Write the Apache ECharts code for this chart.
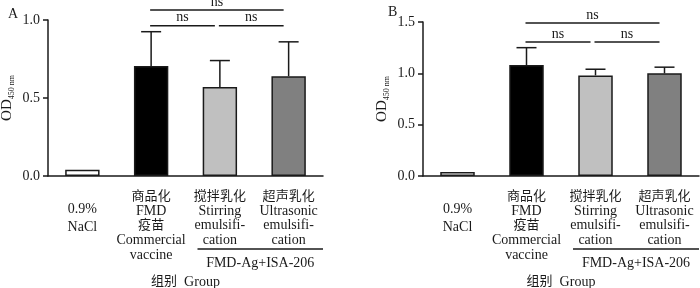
<!DOCTYPE html>
<html>
<head>
<meta charset="utf-8">
<script src="https://cdn.jsdelivr.net/npm/echarts@6/dist/echarts.min.js"></script>
<style>
html, body { margin: 0; padding: 0; background: #fff; }
#chart { width: 700px; height: 288px; }
</style>
</head>
<body>
<div id="chart"></div>
<script>
// 组别
const categories = [
  '0.9%\nNaCl',
  '商品化\nFMD\n疫苗\nCommercial\nvaccine',
  '搅拌乳化\nStirring\nemulsifi-\ncation',
  '超声乳化\nUltrasonic\nemulsifi-\ncation'
]
const barColors = ['#ffffff', '#000000', '#c0c0c0', '#808080']

// A
const meanA = [0.04, 0.705, 0.57, 0.64]
const upperA = [null, 0.925, 0.74, 0.86]
const sigA = [[1, 3, 1.064], [1, 2, 0.963], [2, 3, 0.963]]
// B
const meanB = [0.04, 1.08, 0.98, 1.0]
const upperB = [null, 1.25, 1.04, 1.06]
const sigB = [[1, 3, 1.49], [1, 2, 1.305], [2, 3, 1.305]]

const groupSpan = [[2, 3]]
const groupLabel = 'FMD-Ag+ISA-206'

const FONT = '"Liberation Serif", "Times New Roman", "Noto Sans CJK SC", serif'
const INK = '#1a1a1a'
const FS = 14

const chart = echarts.init(document.getElementById('chart'))

function labelFormatter(value, idx) {
  if (idx === 0) {
    return '{sp| }\n' + value.split('\n').map(s => '{n|' + s + '}').join('\n')
  }
  return value.split('\n').map(s => (/[\u4e00-\u9fff]/.test(s) ? '{c|' : '{t|') + s + '}').join('\n')
}

function xAxisFor(gridIndex) {
  return {
    type: 'category',
    gridIndex,
    data: categories,
    name: '{c|组别}  Group',
    nameLocation: 'middle',
    nameGap: 99,
    nameTextStyle: {
      rich: {
        c: { fontFamily: FONT, fontSize: 13, color: INK }
      },
      color: INK, fontFamily: FONT, fontSize: FS
    },
    axisLine: { lineStyle: { color: INK, width: 1.5 } },
    axisTick: { alignWithLabel: true, length: 6, lineStyle: { color: INK, width: 1.5 } },
    axisLabel: {
      interval: 0,
      margin: 13,
      color: INK,
      fontFamily: FONT,
      formatter: labelFormatter,
      rich: {
        sp: { fontSize: 8, lineHeight: 11 },
        n: { fontFamily: FONT, fontSize: FS, lineHeight: 18, color: INK },
        t: { fontFamily: FONT, fontSize: FS, lineHeight: 14.5, color: INK },
        c: { fontFamily: FONT, fontSize: 13, lineHeight: 15, color: INK }
      }
    }
  }
}

function yAxisFor(gridIndex, max) {
  return {
    type: 'value',
    gridIndex,
    min: 0,
    max,
    interval: 0.5,
    name: '{a|OD}{b|450 nm}',
    nameLocation: 'middle',
    nameGap: 32,
    nameTextStyle: {
      rich: {
        a: { fontFamily: FONT, fontSize: 15, color: INK, lineHeight: 18 },
        b: { fontFamily: FONT, fontSize: 8, color: INK, verticalAlign: 'bottom', lineHeight: 18 }
      }
    },
    axisLine: { show: true, lineStyle: { color: INK, width: 1.5 } },
    axisTick: { show: true, length: 5, lineStyle: { color: INK, width: 1.5 } },
    splitLine: { show: false },
    axisLabel: {
      margin: 8,
      color: INK,
      fontFamily: FONT,
      fontSize: FS,
      formatter: v => v.toFixed(1)
    }
  }
}

function barSeries(idx, mean) {
  return {
    type: 'bar',
    xAxisIndex: idx,
    yAxisIndex: idx,
    barWidth: '50%',
    data: mean.map((v, i) => ({
      value: v,
      itemStyle: { color: barColors[i], borderColor: INK, borderWidth: 1.5 }
    })),
    z: 2
  }
}

function errorSeries(idx, mean, upper) {
  const data = []
  mean.forEach((v, i) => { if (upper[i] != null) data.push([i, v, upper[i]]) })
  return {
    type: 'custom',
    xAxisIndex: idx,
    yAxisIndex: idx,
    clip: false,
    z: 3,
    encode: { x: 0, y: [1, 2] },
    data,
    renderItem(params, api) {
      const p0 = api.coord([api.value(0), api.value(1)])
      const p1 = api.coord([api.value(0), api.value(2)])
      const half = 10
      const style = { stroke: INK, lineWidth: 1.5 }
      return {
        type: 'group',
        children: [
          { type: 'line', shape: { x1: p0[0], y1: p0[1], x2: p1[0], y2: p1[1] }, style },
          { type: 'line', shape: { x1: p1[0] - half, y1: p1[1], x2: p1[0] + half, y2: p1[1] }, style }
        ]
      }
    }
  }
}

function sigSeries(idx, sig) {
  return {
    type: 'custom',
    xAxisIndex: idx,
    yAxisIndex: idx,
    clip: false,
    z: 3,
    encode: { x: [0, 1], y: 2 },
    data: sig,
    renderItem(params, api) {
      const a = api.coord([api.value(0), api.value(2)])
      const b = api.coord([api.value(1), api.value(2)])
      const x1 = a[0] - 1
      const x2 = b[0] - 5
      return {
        type: 'group',
        children: [
          { type: 'line', shape: { x1, y1: a[1], x2, y2: a[1] }, style: { stroke: INK, lineWidth: 1.5 } },
          {
            type: 'text',
            style: {
              text: 'ns', x: (x1 + x2) / 2, y: a[1] - 1,
              align: 'center', verticalAlign: 'bottom',
              fontFamily: FONT, fontSize: FS, fill: INK
            }
          }
        ]
      }
    }
  }
}

function groupSeries(idx) {
  return {
    type: 'custom',
    xAxisIndex: idx,
    yAxisIndex: idx,
    clip: false,
    silent: true,
    encode: { x: [0, 1] },
    data: groupSpan,
    renderItem(params, api) {
      const a = api.coord([api.value(0), 0])
      const b = api.coord([api.value(1), 0])
      const band = api.size([1, 0])[0]
      const x1 = a[0] - band / 2 + 12
      const x2 = b[0] + band / 2
      const y = a[1] + 73
      return {
        type: 'group',
        children: [
          { type: 'line', shape: { x1, y1: y, x2, y2: y }, style: { stroke: INK, lineWidth: 1.5 } },
          {
            type: 'text',
            style: {
              text: groupLabel, x: (x1 + x2) / 2, y: y + 14,
              align: 'center', verticalAlign: 'middle',
              fontFamily: FONT, fontSize: FS, fill: INK
            }
          }
        ]
      }
    }
  }
}

chart.setOption({
  animation: false,
  title: [
    { text: 'A', left: 3, top: 2, textStyle: { fontFamily: FONT, fontSize: 14, fontWeight: 'normal', color: INK } },
    { text: 'B', left: 383, top: 0, textStyle: { fontFamily: FONT, fontSize: 14, fontWeight: 'normal', color: INK } }
  ],
  grid: [
    { left: 48, width: 275, top: 20, bottom: 112, outerBoundsMode: 'none', containLabel: false },
    { left: 423, width: 276, top: 22, bottom: 112, outerBoundsMode: 'none', containLabel: false }
  ],
  xAxis: [xAxisFor(0), xAxisFor(1)],
  yAxis: [yAxisFor(0, 1.0), yAxisFor(1, 1.5)],
  series: [
    barSeries(0, meanA), errorSeries(0, meanA, upperA), sigSeries(0, sigA), groupSeries(0),
    barSeries(1, meanB), errorSeries(1, meanB, upperB), sigSeries(1, sigB), groupSeries(1)
  ]
})
</script>
</body>
</html>
